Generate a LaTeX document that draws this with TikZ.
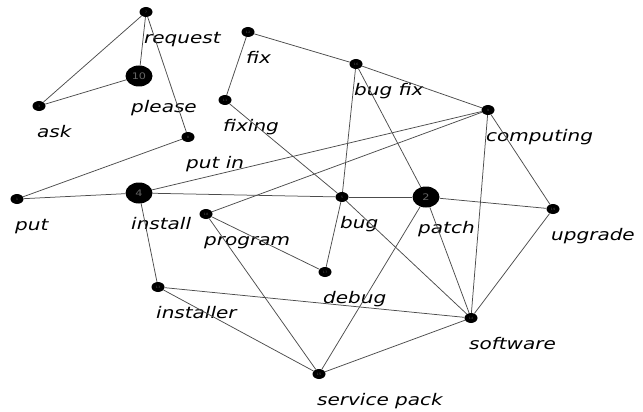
\documentclass[tikz,border=0pt]{standalone}
\usepackage{fontspec}
\setmainfont{DejaVu Sans}[FakeStretch=1.25]
\usepackage{tikz}
\usetikzlibrary{shapes.geometric}
\tikzstyle{term}= [ellipse, fill=black, inner sep=0pt, minimum width=13pt, minimum height=10pt, text=black!70, font=\fontsize{3}{3}\selectfont]
\tikzstyle{hub}= [ellipse, fill=black, inner sep=0pt, minimum width=27pt, minimum height=21pt, text=black!60, font=\fontsize{9}{9}\selectfont]
\tikzstyle{lbl}= [font=\fontsize{16}{16}\selectfont\itshape, anchor=base west, inner sep=0pt, label distance=26pt]
\tikzstyle{link}= [draw=black!70, line width=0.75pt]

\begin{document}
\begin{tikzpicture}[x=1pt, y=-1pt]
				\useasboundingbox (0,0) rectangle (643,412);
				\node[term, label={[lbl, xshift=-2pt]-90:request}] (request) at (146, 12) {7};
				\node[hub, label={[lbl, xshift=-8pt]-90:please}] (please) at (139, 76) {10};
				\node[term, label={[lbl, xshift=-2pt]-90:ask}] (ask) at (39, 106) {3};
				\node[term, label={[lbl, xshift=-2pt]-90:put in}] (putin) at (188, 137) {8};
				\node[term, label={[lbl, xshift=-2pt]-90:fix}] (fix) at (248, 32) {12};
				\node[term, label={[lbl, xshift=-2pt]-90:fixing}] (fixing) at (225, 100) {11};
				\node[term, label={[lbl, xshift=-2pt]-90:bug fix}] (bugfix) at (356, 64) {16};
				\node[term, label={[lbl, xshift=-2pt]-90:computing}] (computing) at (488, 110) {9};
				\node[term, label={[lbl, xshift=-2pt]-90:put}] (put) at (17, 199) {1};
				\node[hub, label={[lbl, xshift=-8pt]-90:install}] (install) at (139, 193) {4};
				\node[term, label={[lbl, xshift=-2pt]-90:program}] (program) at (206, 214) {18};
				\node[term, label={[lbl, xshift=-2pt]-90:bug}] (bug) at (342, 197) {5};
				\node[hub, label={[lbl, xshift=-8pt]-90:patch}] (patch) at (426, 197) {2};
				\node[term, label={[lbl, xshift=-2pt]-90:upgrade}] (upgrade) at (553, 209) {19};
				\node[term, label={[lbl, xshift=-2pt]-90:debug}] (debug) at (325, 272) {17};
				\node[term, label={[lbl, xshift=-2pt]-90:installer}] (installer) at (158, 287) {13};
				\node[term, label={[lbl, xshift=-2pt]-90:software}] (software) at (471, 318) {14};
				\node[term, label={[lbl, xshift=-2pt]-90:service pack}] (servicepack) at (319, 374) {15};
				
				\draw[link](request) -- (ask);
				\draw[link](request) -- (please);
				\draw[link](request) -- (putin);
				\draw[link](please) -- (ask);
				\draw[link](putin) -- (put);
				\draw[link](put) -- (install);
				\draw[link](install) -- (bug);
				\draw[link](bug) -- (patch);
				\draw[link](install) -- (computing);
				\draw[link](install) -- (installer);
				\draw[link](program) -- (computing);
				\draw[link](program) -- (debug);
				\draw[link](program) -- (servicepack);
				\draw[link](installer) -- (software);
				\draw[link](installer) -- (servicepack);
				\draw[link](fix) -- (fixing);
				\draw[link](fix) -- (bugfix);
				\draw[link](fixing) -- (bug);
				\draw[link](bugfix) -- (bug);
				\draw[link](bugfix) -- (patch);
				\draw[link](bugfix) -- (computing);
				\draw[link](bug) -- (debug);
				\draw[link](bug) -- (software);
				\draw[link](patch) -- (upgrade);
				\draw[link](patch) -- (software);
				\draw[link](patch) -- (servicepack);
				\draw[link](computing) -- (software);
				\draw[link](computing) -- (upgrade);
				\draw[link](upgrade) -- (software);
				\draw[link](software) -- (servicepack);
			\end{tikzpicture}
\end{document}
